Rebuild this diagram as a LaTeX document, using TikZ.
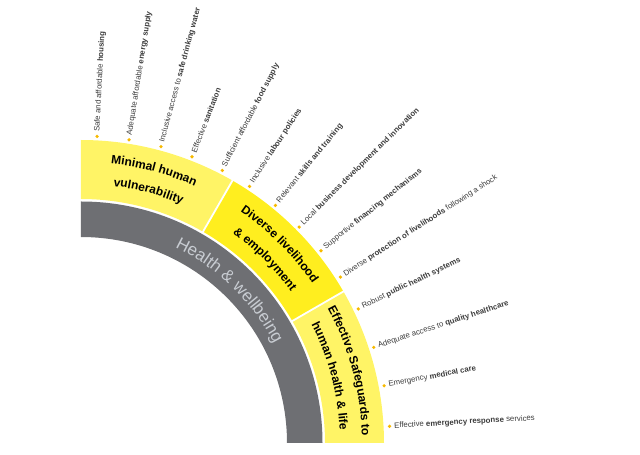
\documentclass[tikz,border=0pt]{standalone}
\usepackage{fontspec}
\setmainfont{Liberation Sans}
\usepackage{xcolor}
\usetikzlibrary{decorations.text}

\definecolor{palesun}{HTML}{FFF466}
\definecolor{brightsun}{HTML}{FFEE1F}
\definecolor{ringgrey}{HTML}{6E6F73}
\definecolor{ringtext}{HTML}{C8CCD2}
\definecolor{dotgold}{HTML}{F7B900}
\definecolor{labelgrey}{HTML}{3C3C3C}

\begin{document}
\begin{tikzpicture}[x=1pt, y=1pt,
                    bullet/.style={circle, fill=dotgold, inner sep=0pt, minimum size=3.6pt},
                    factor/.style={anchor=west, inner sep=0pt, text=labelgrey, font=\fontsize{7.8}{9}\selectfont},
                    gap/.style={white, line width=1.8pt},
                    arctitle/.style={decorate, decoration={text along path, text align=center, text color=black, text={#1}}},
                    ringtitle/.style={decorate, decoration={text along path, text align=center, text color=ringtext, text={#1}}}]
                    \useasboundingbox (-81,-12) rectangle (559,443);

                    \fill[ringgrey] (90:206) -- (90:241.5) arc[start angle=90, end angle=0, radius=241.5] -- (0:206) arc[start angle=0, end angle=90, radius=206] -- cycle;
                    \fill[palesun] (90:244) -- (90:303) arc[start angle=90, end angle=60, radius=303] -- (60:244) arc[start angle=60, end angle=90, radius=244] -- cycle;
                    \fill[brightsun] (60:244) -- (60:303) arc[start angle=60, end angle=30, radius=303] -- (30:244) arc[start angle=30, end angle=60, radius=244] -- cycle;
                    \fill[palesun] (30:244) -- (30:303) arc[start angle=30, end angle=0, radius=303] -- (0:244) arc[start angle=0, end angle=30, radius=244] -- cycle;
                    \draw[gap] (60:243) -- (60:304);
                    \draw[gap] (30:243) -- (30:304);

                    \path[arctitle={|\fontsize{12}{14}\selectfont\bfseries|Minimal human}] (90:281) arc[start angle=90, end angle=60, radius=281];
                    \path[arctitle={|\fontsize{12}{14}\selectfont\bfseries|vulnerability}] (90:259) arc[start angle=90, end angle=60, radius=259];
                    \path[arctitle={|\fontsize{12}{14}\selectfont\bfseries|Diverse livelihood}] (60:281) arc[start angle=60, end angle=30, radius=281];
                    \path[arctitle={|\fontsize{12}{14}\selectfont\bfseries|{\&} employment}] (60:259) arc[start angle=60, end angle=30, radius=259];
                    \path[arctitle={|\fontsize{12}{14}\selectfont\bfseries|Effective Safeguards to}] (30:281) arc[start angle=30, end angle=0, radius=281];
                    \path[arctitle={|\fontsize{12}{14}\selectfont\bfseries|human health {\&} life}] (30:259) arc[start angle=30, end angle=0, radius=259];
                    \path[ringtitle={|\fontsize{17}{20}\selectfont|Health {\&} wellbeing}] (91.5:217) arc[start angle=91.5, end angle=0, radius=217];

                    \node[bullet] (b1) at (87:307) {};
                    \node[bullet] (b2) at (81:307) {};
                    \node[bullet] (b3) at (74.9:307) {};
                    \node[bullet] (b4) at (68.8:307) {};
                    \node[bullet] (b5) at (62.6:307) {};
                    \node[bullet] (b6) at (56.7:307) {};
                    \node[bullet] (b7) at (50.7:307) {};
                    \node[bullet] (b8) at (44.7:307) {};
                    \node[bullet] (b9) at (38.7:307.5) {};
                    \node[bullet] (b10) at (32.6:308) {};
                    \node[bullet] (b11) at (25.8:308) {};
                    \node[bullet] (b12) at (18.1:308) {};
                    \node[bullet] (b13) at (10.7:308.5) {};
                    \node[bullet] (b14) at (3.1:309) {};

                    \node[factor, rotate=87] (f1) at (87:311.5) {Safe and affordable \textbf{housing}};
                    \node[factor, rotate=81] (f2) at (81:311.5) {Adequate affordable \textbf{energy supply}};
                    \node[factor, rotate=74.9] (f3) at (74.9:311.5) {Inclusive access to \textbf{safe drinking water}};
                    \node[factor, rotate=68.8] (f4) at (68.8:311.5) {Effective \textbf{sanitation}};
                    \node[factor, rotate=62.6] (f5) at (62.6:311.5) {Sufficient affordable \textbf{food supply}};
                    \node[factor, rotate=56.7] (f6) at (56.7:311.5) {Inclusive \textbf{labour policies}};
                    \node[factor, rotate=50.7] (f7) at (50.7:311.5) {Relevant \textbf{skills and training}};
                    \node[factor, rotate=44.7] (f8) at (44.7:311.5) {Local \textbf{business development and innovation}};
                    \node[factor, rotate=38.7] (f9) at (38.7:312) {Supportive \textbf{financing mechanisms}};
                    \node[factor, rotate=32.6] (f10) at (32.6:312.5) {Diverse \textbf{protection of livelihoods} following a shock};
                    \node[factor, rotate=25.8] (f11) at (25.8:312.5) {Robust \textbf{public health systems}};
                    \node[factor, rotate=18.1] (f12) at (18.1:312.5) {Adequate access to \textbf{quality healthcare}};
                    \node[factor, rotate=10.7] (f13) at (10.7:313) {Emergency \textbf{medical care}};
                    \node[factor, rotate=3.1] (f14) at (3.1:313.5) {Effective \textbf{emergency response} services};
                \end{tikzpicture}
\end{document}
